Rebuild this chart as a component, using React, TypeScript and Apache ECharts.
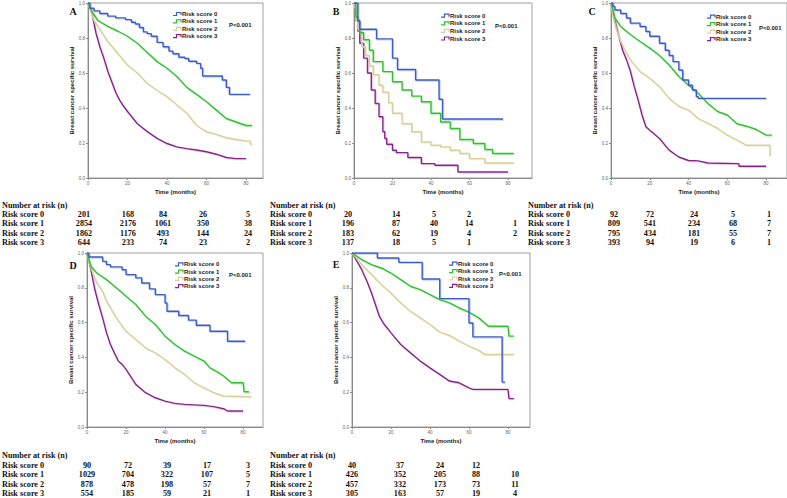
import React, { useEffect, useRef } from 'react';
import * as echarts from 'echarts';

const groupNames = ['Risk score 0', 'Risk score 1', 'Risk score 2', 'Risk score 3'];
const panelLetters = ['A', 'B', 'C', 'D', 'E'];
const timeTicks = [0, 20, 40, 60, 80];
const pValueLabel = 'P<0.001';
const riskHeader = 'Number at risk (n)';
const xAxisTitle = 'Time (months)';
const yAxisTitle = 'Breast cancer specific survival';

// Panel A survival curves [time, survival]
const survA0 = [[0,1],[1,0.97],[3,0.955],[6,0.94],[10,0.925],[14,0.915],[19,0.905],[22,0.89],[24,0.88],[26,0.86],[28,0.835],[30,0.825],[32,0.81],[35,0.775],[38,0.75],[41,0.725],[43,0.71],[46,0.69],[49,0.683],[51,0.667],[55,0.655],[57,0.627],[58,0.583],[68,0.56],[70,0.518],[71.6,0.478],[82,0.478]];
const survA1 = [[0,1],[2,0.95],[5,0.9],[10,0.866],[15,0.84],[20,0.81],[25,0.77],[30,0.717],[35,0.665],[40,0.627],[45,0.58],[50,0.518],[55,0.478],[60,0.436],[65,0.388],[70,0.34],[75,0.32],[80,0.3],[83,0.3]];
const survA2 = [[0,1],[3,0.9],[5,0.866],[10,0.78],[15,0.713],[20,0.646],[25,0.6],[30,0.54],[35,0.5],[40,0.465],[45,0.417],[50,0.37],[55,0.3],[60,0.264],[65,0.249],[70,0.23],[75,0.22],[80,0.212],[82,0.212],[82.5,0.187]];
const survA3 = [[0,1],[2,0.94],[4,0.83],[6,0.75],[8,0.685],[10,0.61],[12,0.55],[14,0.49],[16,0.445],[18,0.41],[20,0.38],[25,0.31],[30,0.265],[35,0.226],[40,0.197],[45,0.178],[50,0.168],[55,0.16],[60,0.15],[65,0.136],[70,0.117],[75,0.111],[80,0.111]];

// Panel B
const survB0 = [[0,1],[2,0.9],[3,0.85],[11.7,0.795],[20,0.685],[22.6,0.62],[32,0.56],[44.2,0.45],[46,0.337],[77.4,0.337]];
const survB1 = [[0,1],[1,0.92],[2,0.895],[3,0.83],[5,0.79],[8,0.73],[10,0.665],[15,0.608],[20,0.55],[25,0.503],[30,0.468],[35,0.436],[40,0.37],[45,0.32],[50,0.283],[55,0.22],[62,0.197],[68,0.163],[72,0.14],[83,0.14]];
const survB2 = [[0,1],[0.5,0.97],[1,0.9],[2,0.85],[4,0.75],[6,0.7],[8,0.64],[10,0.59],[13,0.53],[15,0.49],[18,0.43],[20,0.37],[25,0.31],[30,0.264],[35,0.206],[40,0.187],[45,0.178],[50,0.159],[55,0.14],[60,0.111],[68,0.086],[83,0.086]];
const survB3 = [[0,1],[0.5,0.97],[1,0.9],[2,0.84],[3,0.77],[5,0.685],[7,0.6],[9,0.503],[11,0.426],[13,0.35],[15,0.264],[16,0.226],[17,0.193],[20,0.159],[22,0.145],[28,0.117],[35,0.082],[42,0.073],[54,0.034],[80,0.034]];

// Panel C
const survC0 = [[0,1],[1,0.98],[2,0.96],[5,0.94],[8,0.914],[10,0.885],[15,0.866],[18,0.837],[20,0.81],[25,0.77],[28,0.73],[30,0.7],[32,0.665],[35,0.617],[37,0.56],[40,0.53],[42,0.503],[44,0.465],[45,0.455],[80,0.455]];
const survC1 = [[0,1],[2,0.914],[5,0.866],[10,0.82],[15,0.78],[20,0.742],[25,0.7],[30,0.646],[35,0.58],[40,0.53],[45,0.484],[50,0.426],[55,0.38],[60,0.36],[65,0.31],[70,0.296],[75,0.277],[80,0.245],[83,0.245]];
const survC2 = [[0,1],[1,0.92],[3,0.84],[5,0.78],[8,0.713],[10,0.675],[15,0.608],[20,0.57],[25,0.522],[30,0.455],[35,0.41],[40,0.388],[45,0.34],[50,0.312],[55,0.283],[60,0.245],[65,0.216],[70,0.187],[82,0.187],[82,0.124]];
const survC3 = [[0,1],[2,0.905],[4,0.81],[6,0.73],[8,0.675],[10,0.61],[12,0.522],[14,0.445],[16,0.36],[18,0.293],[20,0.273],[25,0.226],[30,0.159],[35,0.12],[40,0.1],[45,0.098],[50,0.086],[66,0.082],[66,0.067],[80,0.067]];

// Panel D
const survD0 = [[0,1],[1,0.977],[8,0.952],[10,0.933],[12,0.92],[18,0.904],[20,0.876],[25,0.857],[28,0.828],[32,0.794],[35,0.761],[40,0.713],[41,0.665],[47,0.641],[52,0.614],[56,0.585],[63,0.55],[72,0.493],[81,0.493]];
const survD1 = [[0,1],[2,0.924],[5,0.885],[10,0.847],[15,0.8],[20,0.751],[25,0.704],[30,0.637],[35,0.589],[40,0.522],[45,0.474],[50,0.436],[55,0.407],[60,0.379],[63,0.34],[67,0.315],[70,0.293],[74,0.254],[80,0.254],[80.5,0.203],[83,0.203]];
const survD2 = [[0,1],[1,0.95],[3,0.885],[5,0.828],[8,0.78],[10,0.723],[15,0.627],[20,0.55],[25,0.503],[30,0.455],[35,0.426],[40,0.388],[45,0.34],[50,0.302],[55,0.254],[60,0.225],[65,0.197],[70,0.178],[84,0.174]];
const survD3 = [[0,1],[2,0.904],[4,0.79],[6,0.704],[8,0.627],[10,0.541],[12,0.474],[14,0.426],[16,0.379],[18,0.36],[20,0.331],[25,0.245],[30,0.197],[35,0.168],[40,0.149],[45,0.136],[50,0.13],[60,0.124],[65,0.117],[70,0.105],[72,0.092],[80,0.092]];

// Panel E
const survE0 = [[0,1],[13,0.971],[24,0.946],[36,0.851],[45,0.738],[60,0.598],[62,0.518],[77,0.258],[78.5,0.258]];
const survE1 = [[0,1],[5,0.962],[10,0.933],[15,0.914],[20,0.885],[25,0.847],[30,0.809],[35,0.79],[40,0.761],[45,0.732],[50,0.713],[55,0.684],[60,0.66],[65,0.627],[70,0.579],[80,0.579],[80.5,0.522],[83,0.522]];
const survE2 = [[0,1],[3,0.962],[5,0.933],[10,0.876],[15,0.818],[20,0.77],[25,0.713],[30,0.665],[35,0.627],[40,0.589],[45,0.545],[50,0.526],[55,0.493],[60,0.465],[65,0.44],[68,0.417],[83,0.417]];
const survE3 = [[0,1],[3,0.943],[5,0.904],[8,0.828],[10,0.77],[12,0.704],[14,0.637],[16,0.598],[20,0.541],[25,0.474],[30,0.426],[35,0.379],[40,0.34],[45,0.302],[50,0.264],[55,0.254],[60,0.225],[62,0.216],[80,0.216],[80.5,0.163],[83,0.163]];

// Number at risk tables (rows: risk score 0..3; columns: 0, 20, 40, 60, 80 months)
const riskA = [[201,168,84,26,5],[2854,2176,1061,350,38],[1862,1176,493,144,24],[644,233,74,23,2]];
const riskB = [[20,14,5,2,null],[196,87,40,14,1],[183,62,19,4,2],[137,18,5,1,null]];
const riskC = [[92,72,24,5,1],[809,541,234,68,7],[795,434,181,55,7],[393,94,19,6,1]];
const riskD = [[90,72,39,17,3],[1029,704,322,107,5],[878,478,198,57,7],[554,185,59,21,1]];
const riskE = [[40,37,24,12,null],[426,352,205,88,10],[457,332,173,73,11],[305,163,57,19,4]];

const curves = [
  [survA0, survA1, survA2, survA3],
  [survB0, survB1, survB2, survB3],
  [survC0, survC1, survC2, survC3],
  [survD0, survD1, survD2, survD3],
  [survE0, survE1, survE2, survE3],
];
const riskTables = [riskA, riskB, riskC, riskD, riskE];

const colors = ['#3d5cc6', '#2ec22e', '#d8d09a', '#88228a'];
const shadowColors = ['rgba(120,150,230,0.55)', 'rgba(120,220,120,0.55)', 'rgba(230,225,190,0.6)', 'rgba(200,140,200,0.55)'];

const topRows = { headerY: 205, rowY: [214.3, 223.8, 233.3, 242.8] };
const botRows = { headerY: 455, rowY: [465.5, 474.8, 484.1, 493.3] };

const layout = [
  { grid: { left: 88, top: 3, width: 175, height: 175 }, xMax: 88.6, letter: [73, 11], legend: [182, 14, 7.4], p: [229, 24.5], table: { labelX: 2, cols: [84, 128, 163, 203, 248], ...topRows }, stepped: [true, false, false, false] },
  { grid: { left: 354, top: 3, width: 178, height: 175 }, xMax: 92.5, letter: [336, 11], legend: [450, 15.7, 7.6], p: [495, 25.7], table: { labelX: 270, cols: [348, 396, 434, 469, 515], ...topRows }, stepped: [true, true, true, true] },
  { grid: { left: 611, top: 3, width: 176, height: 175 }, xMax: 90.8, letter: [592, 11], legend: [716, 16.7, 7.5], p: [759, 28], table: { labelX: 528, cols: [614, 650, 694, 733, 769], ...topRows }, stepped: [true, false, false, false] },
  { grid: { left: 87, top: 253, width: 176, height: 174 }, xMax: 90.2, letter: [73, 265], legend: [184, 264.3, 7.3], p: [229, 274.7], table: { labelX: 2, cols: [87, 128, 167, 207, 248], ...botRows }, stepped: [true, false, false, false] },
  { grid: { left: 352, top: 253, width: 178, height: 174 }, xMax: 91.3, letter: [336, 264], legend: [458, 263.7, 7.4], p: [499, 274], table: { labelX: 270, cols: [352, 400, 440, 476, 515], ...botRows }, stepped: [true, false, false, false] },
];

const sans = 'Liberation Sans, Arial, sans-serif';
const serif = 'Liberation Serif, Times New Roman, serif';

function txt(text: string, x: number, y: number, size: number, family: string, align = 'left', color = '#1a1a1a') {
  return {
    type: 'text',
    x,
    y,
    silent: true,
    style: {
      text,
      fontSize: size,
      fontFamily: family,
      fontWeight: 'bold',
      fill: color,
      align,
      verticalAlign: 'middle',
      textAlign: align,
      textVerticalAlign: 'middle',
    },
  };
}

function buildOption() {
  const grids: any[] = [];
  const xAxes: any[] = [];
  const yAxes: any[] = [];
  const series: any[] = [];
  const graphics: any[] = [];

  layout.forEach((L, i) => {
    grids.push({ ...L.grid, show: true, borderColor: '#a0a0a0', borderWidth: 1, backgroundColor: 'transparent' });
    xAxes.push({
      gridIndex: i,
      type: 'value',
      min: 0,
      max: L.xMax,
      interval: 20,
      name: xAxisTitle,
      nameLocation: 'middle',
      nameGap: 11,
      nameTextStyle: { fontSize: 6, fontWeight: 'bold', fontFamily: sans, color: '#222' },
      axisLine: { lineStyle: { color: '#8a8a8a', width: 1 } },
      axisTick: { length: 2, customValues: timeTicks, lineStyle: { color: '#8a8a8a' } },
      axisLabel: {
        customValues: timeTicks,
        fontSize: 4.5,
        color: '#666',
        margin: 3,
        fontFamily: sans,
        formatter: (v: number) => (v % 20 === 0 ? String(v) : ''),
      },
      splitLine: { show: false },
    });
    yAxes.push({
      gridIndex: i,
      type: 'value',
      min: 0,
      max: 1,
      interval: 0.2,
      name: yAxisTitle,
      nameLocation: 'middle',
      nameGap: 13,
      nameTextStyle: { fontSize: 6, fontWeight: 'bold', fontFamily: sans, color: '#222' },
      axisLine: { lineStyle: { color: '#8a8a8a', width: 1 } },
      axisTick: { length: 2, lineStyle: { color: '#8a8a8a' } },
      axisLabel: { fontSize: 4.5, color: '#666', margin: 3, fontFamily: sans, formatter: (v: number) => v.toFixed(1) },
      splitLine: { show: false },
    });

    curves[i].forEach((data, g) => {
      series.push({
        type: 'line',
        name: groupNames[g],
        xAxisIndex: i,
        yAxisIndex: i,
        data,
        step: L.stepped[g] ? 'end' : false,
        showSymbol: false,
        symbol: 'none',
        silent: true,
        z: 10 - g,
        lineStyle: {
          color: colors[g],
          width: 1.4,
          shadowColor: shadowColors[g],
          shadowBlur: 0,
          shadowOffsetX: 0.8,
          shadowOffsetY: 0.8,
        },
      });
    });

    // panel letter
    graphics.push(txt(panelLetters[i], L.letter[0], L.letter[1], 10, serif, 'center', '#111'));

    // legend
    const [lx, ly, lg] = L.legend;
    groupNames.forEach((name, g) => {
      const y = ly + g * lg;
      graphics.push({
        type: 'polyline',
        silent: true,
        shape: { points: [[lx - 9, y + 1.5], [lx - 5.5, y + 1.5], [lx - 5.5, y - 1.5], [lx - 1, y - 1.5], [lx - 1, y + 1]] },
        style: { stroke: colors[g], lineWidth: 1.2, fill: 'none' },
      });
      graphics.push(txt(name, lx, y, 6, sans, 'left', '#222'));
    });
    graphics.push(txt(pValueLabel, L.p[0], L.p[1], 6, sans, 'left', '#222'));

    // risk table
    const T = L.table;
    graphics.push(txt(riskHeader, T.labelX, T.headerY, 8.2, serif, 'left', '#111'));
    riskTables[i].forEach((row, r) => {
      graphics.push(txt(groupNames[r], T.labelX, T.rowY[r], 8.2, serif, 'left', '#111'));
      row.forEach((v, c) => {
        if (v === null || v === undefined) return;
        graphics.push(txt(String(v), T.cols[c], T.rowY[r], 8.2, serif, 'center', '#111'));
      });
    });
  });

  return {
    animation: false,
    backgroundColor: '#ffffff',
    grid: grids,
    xAxis: xAxes,
    yAxis: yAxes,
    series,
    graphic: { elements: graphics },
  };
}

export default function App() {
  const ref = useRef<HTMLDivElement>(null);
  useEffect(() => {
    if (!ref.current) return;
    const chart = echarts.init(ref.current, undefined, { renderer: 'svg' });
    chart.setOption(buildOption() as any);
    return () => chart.dispose();
  }, []);
  return (
    <div
      ref={ref}
      style={{ position: 'absolute', left: 0, top: 0, width: 787, height: 498, background: '#fff' }}
    />
  );
}
